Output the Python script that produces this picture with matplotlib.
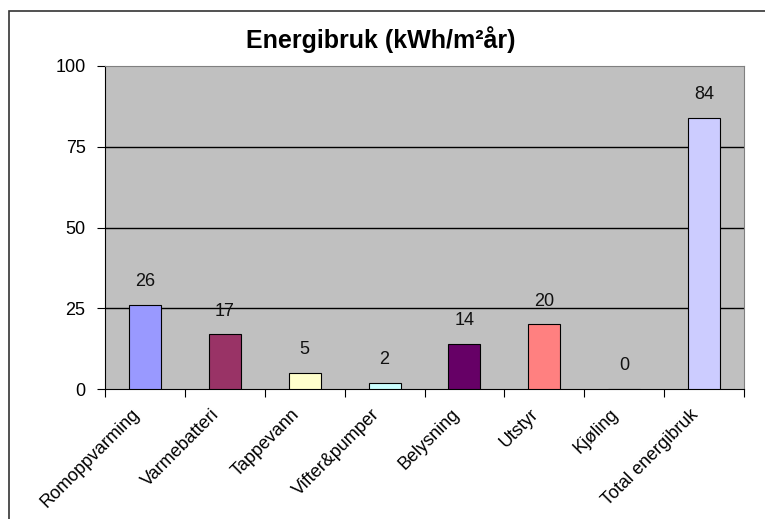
import matplotlib
matplotlib.use("Agg")
import matplotlib.pyplot as plt
from matplotlib.patches import Rectangle
from matplotlib.transforms import ScaledTranslation

plt.rcParams['font.family'] = ['Liberation Sans', 'DejaVu Sans']

#-- Data
categories = ['Romoppvarming', 'Varmebatteri', 'Tappevann', 'Vifter&pumper',
              'Belysning', 'Utstyr', 'Kjøling', 'Total energibruk']
values = [26, 17, 5, 2, 14, 20, 0, 84]
bar_colors = ['#9999FF', '#993366', '#FFFFCC', '#CCFFFF',
              '#660066', '#FF8080', '#FFFFFF', '#CCCCFF']
y_ticks = [0, 25, 50, 75, 100]


def draw_chart():
    fig = plt.figure(figsize=(7.65, 5.19), dpi=100)
    fig.patch.set_facecolor('white')

    # chart frame, runs off the right and bottom edges
    fig.add_artist(Rectangle((9 / 765, -0.05), 1.0, 1.05 - 11 / 519,
                             transform=fig.transFigure, fill=False,
                             edgecolor='#333333', linewidth=1.2))

    ax = fig.add_axes([105 / 765, 1 - 389 / 519, 639 / 765, 323 / 519])
    ax.set_facecolor('#C0C0C0')

    x = list(range(len(categories)))
    ax.bar(x, values, width=0.4, color=bar_colors, edgecolor='#000000',
           linewidth=0.8, zorder=3)
    for xi, v in zip(x, values):
        ax.text(xi, v + 4.5, str(v), ha='center', va='bottom', fontsize=13,
                color='#111111', zorder=4)

    ax.set_xlim(-0.5, len(categories) - 0.5)
    ax.set_ylim(0, 100)
    ax.set_yticks(y_ticks)
    ax.set_yticklabels([str(t) for t in y_ticks], fontsize=13)
    for t in y_ticks[1:-1]:
        ax.axhline(t, color='black', linewidth=1.0, zorder=1)

    # ticks sit between categories, labels under each bar
    ax.set_xticks([i - 0.5 for i in range(len(categories) + 1)], minor=False)
    ax.set_xticklabels([])
    ax.set_xticks(x, minor=True)
    ax.set_xticklabels(categories, minor=True, rotation=45, ha='right',
                       rotation_mode='anchor', fontsize=13)
    ax.tick_params(axis='x', which='minor', length=0, pad=7)
    ax.tick_params(axis='x', which='major', length=6, direction='out')
    ax.tick_params(axis='y', length=6, direction='out', pad=8)

    # nudge the slanted labels down-left so they end under the bar
    shift = ScaledTranslation(-14 / 100, -7 / 100, fig.dpi_scale_trans)
    for lbl in ax.get_xticklabels(minor=True):
        lbl.set_transform(lbl.get_transform() + shift)

    for side in ['top', 'right']:
        ax.spines[side].set_color('#808080')
    ax.spines['left'].set_color('black')
    ax.spines['bottom'].set_color('black')

    fig.text(0.498, 1 - 40 / 519, 'Energibruk (kWh/m²år)', ha='center',
             va='center', fontsize=18, fontweight='bold')

    fig.savefig('out.png', dpi=100)


if __name__ == "__main__":
    draw_chart()
